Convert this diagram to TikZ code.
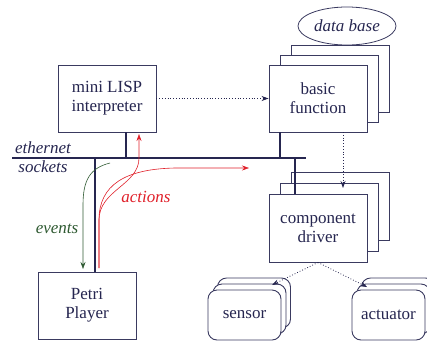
\documentclass[tikz,border=0pt]{standalone}
\usepackage{fontspec}
\setmainfont{Liberation Serif}
\usetikzlibrary{arrows.meta,shapes.geometric}
\definecolor{navy}{HTML}{262650}
\definecolor{boxline}{HTML}{3A3A60}
\definecolor{actred}{HTML}{E0202A}
\definecolor{evgreen}{HTML}{2F5A32}
\tikzset{
  box/.style={draw=boxline, line width=0.9pt, fill=white, text=navy, minimum width=98pt, minimum height=67pt, align=center, inner sep=0pt, font=\fontsize{17}{19}\selectfont},
  rbox/.style={draw=boxline, line width=0.9pt, fill=white, text=navy, rounded corners=9pt, minimum width=73pt, minimum height=50pt, align=center, inner sep=0pt, font=\fontsize{17}{19}\selectfont},
  lbl/.style={font=\fontsize{17}{19}\selectfont\itshape, inner sep=0pt},
  bus/.style={draw=navy, line width=2pt},
  dotarrow/.style={draw=navy, dotted, line width=0.8pt, -{Stealth[length=7pt,width=5pt]}},
  redarrow/.style={draw=actred, line width=0.6pt, -{Stealth[length=7pt,width=5pt]}},
  greenarrow/.style={draw=evgreen, line width=0.6pt, -{Stealth[length=7pt,width=5pt]}},
}
\begin{document}
\begin{tikzpicture}[x=1pt,y=-1pt]
\useasboundingbox (0,0) rectangle (427,343);
% data base
\node[ellipse, draw=boxline, line width=0.8pt, minimum width=98pt, minimum height=38pt, inner sep=0pt, text=navy, font=\fontsize{17}{19}\selectfont\itshape] (db) at (347,26) {data base};
% basic function stack
\node[box] (bf3) at (340,78.5) {};
\node[box] (bf2) at (329.5,88.5) {};
\node[box] (bf) at (318,98.5) {basic\\function};
% component driver stack
\node[box, minimum height=68pt] (cd3) at (340,206.5) {};
\node[box, minimum height=68pt] (cd2) at (329.5,217.5) {};
\node[box, minimum height=68pt] (cd) at (318,228) {component\\driver};
% mini LISP
\node[box] (lisp) at (107,98.5) {mini LISP\\interpreter};
% Petri Player
\node[box] (petri) at (87,305.5) {Petri\\Player};
% sensor stack
\node[rbox] (s3) at (254,303) {};
\node[rbox] (s2) at (249.5,309) {};
\node[rbox] (sensor) at (244.5,315) {sensor};
% actuator stack
\node[rbox] (a3) at (398,303) {};
\node[rbox] (a2) at (393.5,309) {};
\node[rbox] (act) at (388.5,315) {actuator};
% ethernet
\coordinate (ethL) at (12,158);
\coordinate (ethR) at (306,158);
\coordinate (e1) at (126,158);
\coordinate (e2) at (95,158);
\coordinate (e3) at (280,158);
\coordinate (e4) at (295,158);
\draw[bus] (ethL) -- (ethR);
\draw[bus] (lisp.south -| e1) -- (e1);
\draw[bus] (e2) -- (petri.north -| e2);
\draw[bus] (bf.south -| e3) -- (e3);
\draw[bus] (e4) -- (cd.north -| e4);
\node[lbl, text=navy] (eth) at (43,148) {ethernet};
\node[lbl, text=navy] (sock) at (43,167) {sockets};
% dotted arrows
\draw[dotarrow] (lisp.east) -- (bf.west);
\coordinate (d1) at (343,132);
\coordinate (d1e) at (343,188);
\draw[dotarrow] (d1) -- (d1e);
\coordinate (sTip) at (272,285);
\coordinate (aTip) at (367,287);
\draw[dotarrow] (cd.south) -- (sTip);
\draw[dotarrow] (cd.south) -- (aTip);
% events (green)
\coordinate (gStart) at (110,163);
\coordinate (gEnd) at (83,269);
\draw[greenarrow] (gStart) .. controls (90,168) and (83,180) .. (83,205) -- (gEnd);
\node[lbl, text=evgreen] (events) at (57,229) {events};
% actions (red)
\coordinate (rStart) at (99,268);
\coordinate (rUp) at (139,134);
\coordinate (rRight) at (249,168);
\draw[redarrow] (rStart) -- (99,220) .. controls (99,185) and (125,169) .. (175,168) -- (rRight);
\draw[redarrow] (rStart) -- (99,220) .. controls (99,190) and (139,185) .. (139,158) -- (rUp);
\node[lbl, text=actred] (actions) at (146,197) {actions};
\end{tikzpicture}
\end{document}
